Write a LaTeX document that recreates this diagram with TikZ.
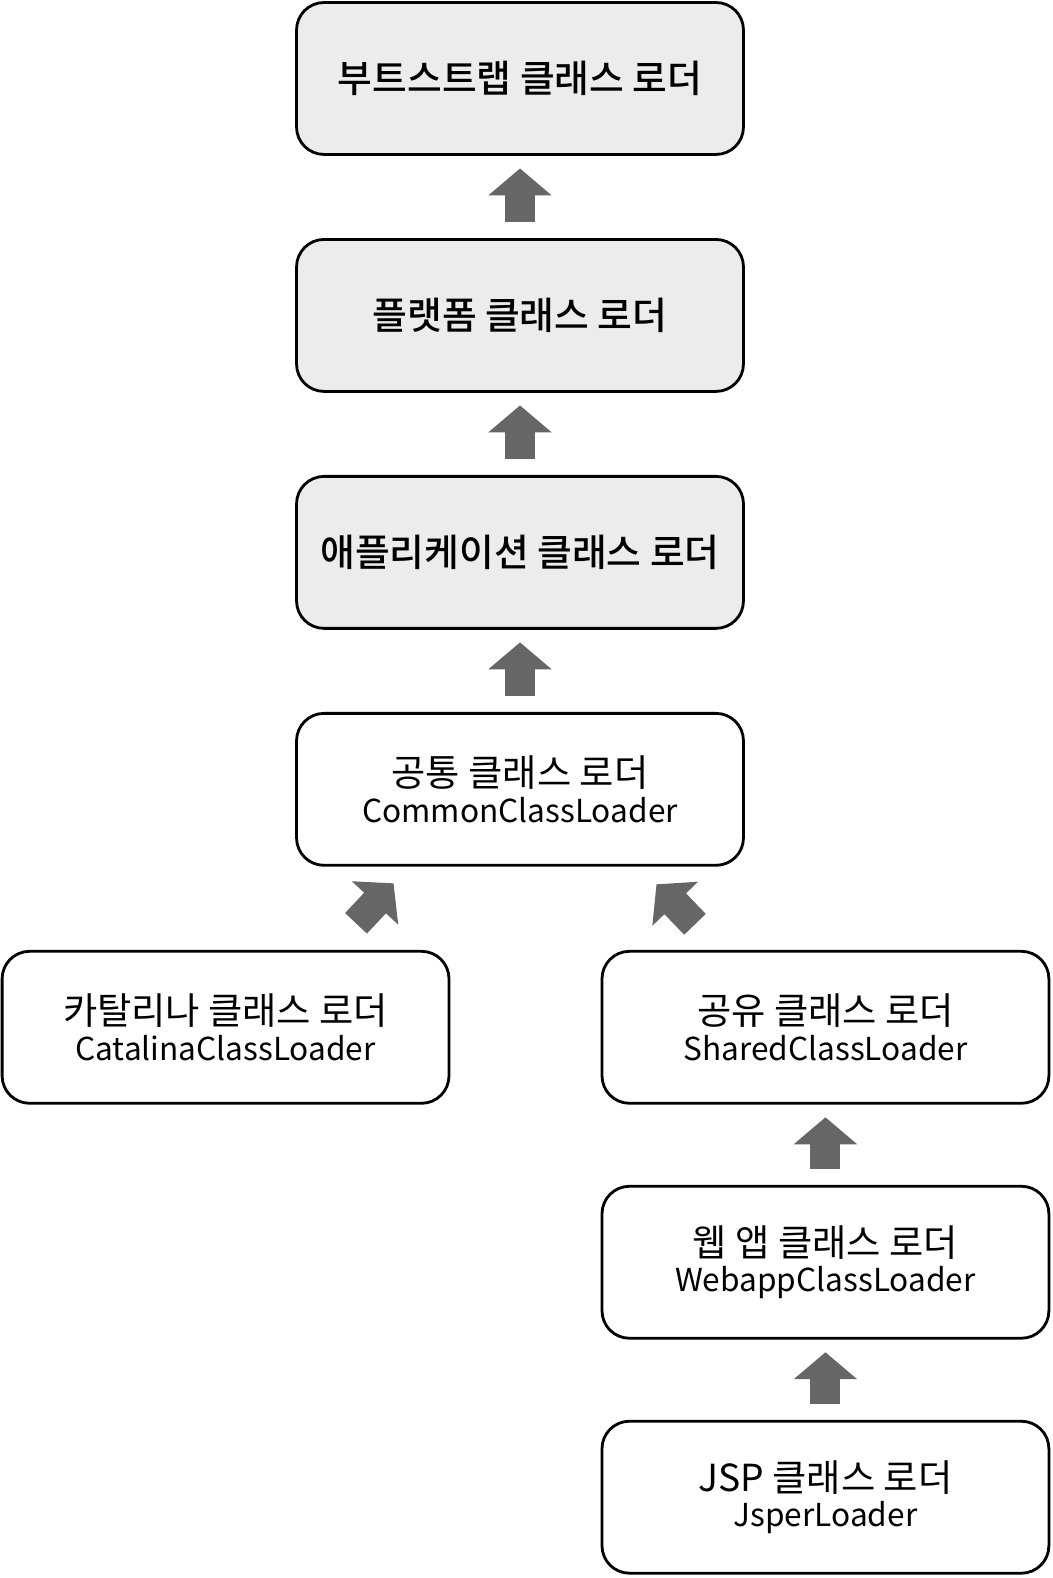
\documentclass[tikz,border=0pt]{standalone}
\usepackage{fontspec}
\setmainfont{Noto Sans CJK KR}
\newfontfamily\krmedium{Noto Sans CJK KR Medium}
\usetikzlibrary{calc}
\usetikzlibrary{positioning}
\usetikzlibrary{arrows.meta}
\definecolor{boxgray}{RGB}{236,236,236}
\definecolor{arrowgray}{RGB}{102,102,102}
\newcommand{\krline}[1]{{\fontsize{21.2}{20}\selectfont #1}}

\begin{document}
\begin{tikzpicture}[x=0.02cm, y=0.02cm, node distance=1.7cm, font=\fontsize{18}{20}\selectfont]
    \tikzstyle{loader}=[draw=black, line width=1.6pt, rectangle, rounded corners=0.55cm, fill=white, minimum width=8.94cm, minimum height=3.04cm, align=center, inner sep=0pt, outer sep=0pt]
    \tikzstyle{sysloader}=[loader, fill=boxgray, font=\fontsize{21.5}{20}\krmedium]
    \tikzstyle{parent}=[draw=arrowgray, line width=0.6cm, -{Triangle[width=1.24cm, length=0.54cm]}]
    \tikzstyle{parentup}=[parent, shorten <=0.34cm, shorten >=0.28cm]

    \useasboundingbox (0,0) rectangle (1053,1578);

    % JVM loaders
    \node[sysloader] (boot) at (520,1499.5) {부트스트랩 클래스 로더};
    \node[sysloader, below=of boot] (plat) {플랫폼 클래스 로더};
    \node[sysloader, below=of plat] (app) {애플리케이션 클래스 로더};

    % Tomcat loaders
    \node[loader, below=of app] (common) {\krline{공통 클래스 로더}\\CommonClassLoader};
    \node[loader, below=1.72cm of common, xshift=-5.89cm] (cat) {\krline{카탈리나 클래스 로더}\\CatalinaClassLoader};
    \node[loader, right=3.06cm of cat] (shared) {\krline{공유 클래스 로더}\\SharedClassLoader};
    \node[loader, below=1.66cm of shared] (web) {\krline{웹 앱 클래스 로더}\\WebappClassLoader};
    \node[loader, below=1.66cm of web] (jsp) {\krline{JSP 클래스 로더}\\JsperLoader};

    \draw[parentup] (plat.north) -- (boot.south);
    \draw[parentup] (app.north) -- (plat.south);
    \draw[parentup] (common.north) -- (app.south);
    \draw[parent] ([shift={(-93,28)}]cat.north east) -- ([shift={(97,-18)}]common.south west);
    \draw[parent] ([shift={(93,27)}]shared.north west) -- ([shift={(-87,-19)}]common.south east);
    \draw[parentup] (web.north) -- (shared.south);
    \draw[parentup] (jsp.north) -- (web.south);

\end{tikzpicture}
\end{document}
